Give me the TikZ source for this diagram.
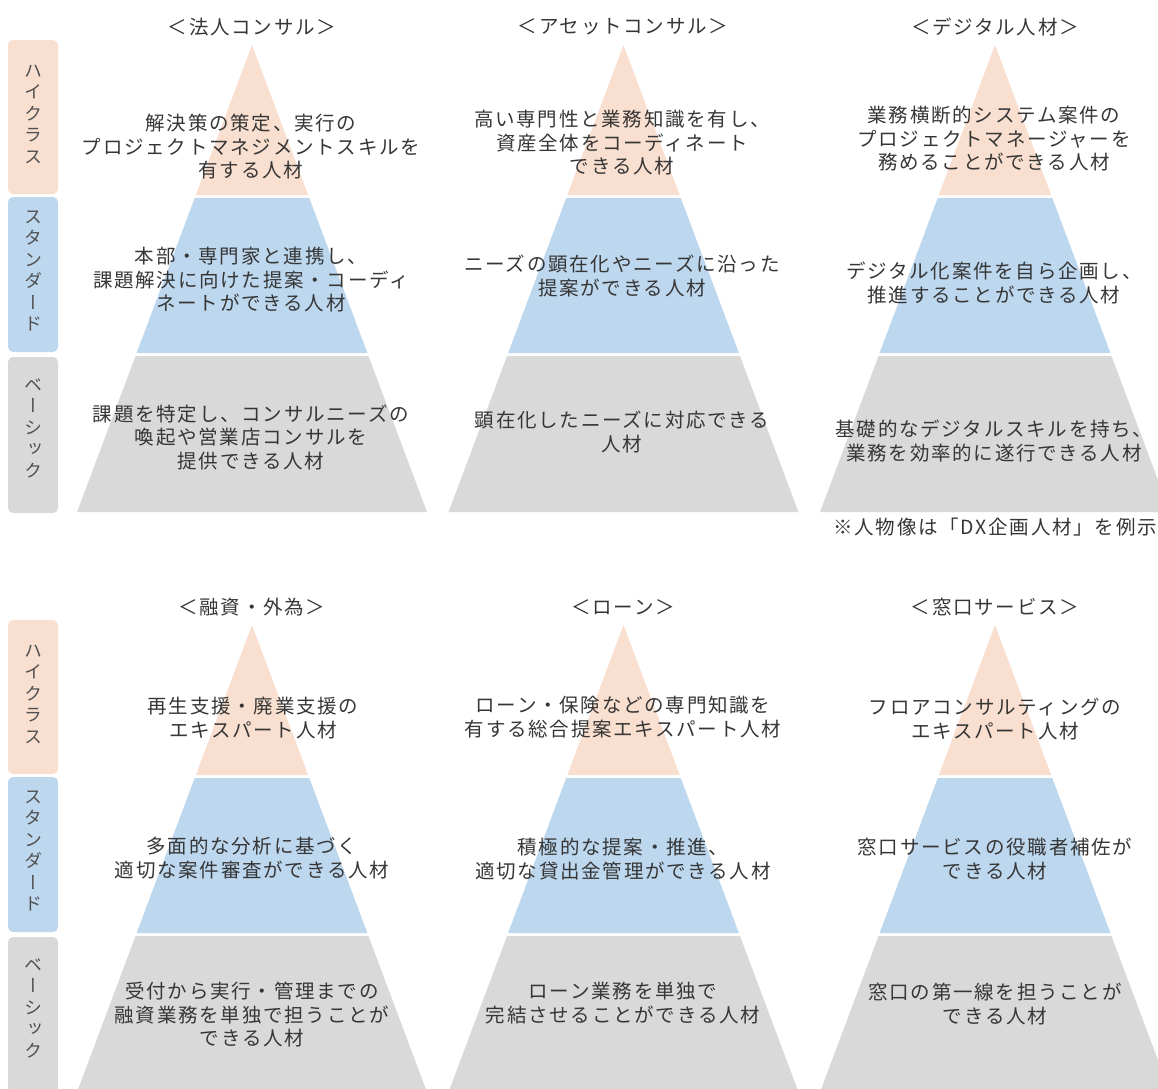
\documentclass[tikz,border=0pt]{standalone}
\usepackage{fontspec}
\setmainfont[LetterSpace=9]{Noto Sans CJK JP}
\newfontfamily\vfont[RawFeature=+vert]{Noto Sans CJK JP}
\definecolor{hiC}{HTML}{F9DFD0}
\definecolor{stC}{HTML}{BDD7EE}
\definecolor{baC}{HTML}{D9D9D9}
\definecolor{txt}{HTML}{363636}
\definecolor{lbltxt}{HTML}{505050}
\begin{document}
\begin{tikzpicture}[x=1pt,y=-1pt,
  desc/.style={align=center, text=txt, font=\fontsize{19.5}{23.5}\selectfont, inner sep=0pt},
  ttl/.style={text=txt, font=\fontsize{19.5}{23.5}\selectfont, inner sep=0pt},
  lbl/.style={align=center, text=lbltxt, font=\vfont\fontsize{18}{21.5}\selectfont, inner sep=0pt},
  bar/.style={rounded corners=5pt}]
\useasboundingbox (0,0) rectangle (1158,1088);
\clip (0,0) rectangle (1158,1088);
% pyramids
\foreach \cx/\oy in {252/0, 623.5/0, 995/0, 252/580, 623.5/580, 995/580}{
  \begin{scope}[shift={(\cx,\oy)}]
    \fill[hiC] (0,45) -- (56.2,195) -- (-56.2,195) -- cycle;
    \fill[stC] (-57.3,198) -- (57.3,198) -- (115.4,353) -- (-115.4,353) -- cycle;
    \fill[baC] (-116.5,356) -- (116.5,356) -- (175,512) -- (-175,512) -- cycle;
  \end{scope}
}
% level bars
\foreach \oy in {0,580}{
  \begin{scope}[shift={(0,\oy)}]
    \fill[hiC,bar] (8,40) rectangle (58,194);
    \fill[stC,bar] (8,197) rectangle (58,352);
    \fill[baC,bar] (8,357) rectangle (58,513);
  \end{scope}
}
\node[lbl] (lh1) at (33,114) {ハ\\イ\\ク\\ラ\\ス};
\node[lbl] (ls1) at (33,271) {ス\\タ\\ン\\ダ\\ー\\ド};
\node[lbl] (lb1) at (33,428) {ベ\\ー\\シ\\ッ\\ク};
\node[lbl] (lh2) at (33,694) {ハ\\イ\\ク\\ラ\\ス};
\node[lbl] (ls2) at (33,851) {ス\\タ\\ン\\ダ\\ー\\ド};
\node[lbl] (lb2) at (33,1008) {ベ\\ー\\シ\\ッ\\ク};
% titles
\node[ttl] (t1) at (252,27) {＜法人コンサル＞};
\node[ttl] (t2) at (623,27) {＜アセットコンサル＞};
\node[ttl] (t3) at (995,27) {＜デジタル人材＞};
\node[ttl] (t4) at (252,607) {＜融資・外為＞};
\node[ttl] (t5) at (623,607) {＜ローン＞};
\node[ttl] (t6) at (995,607) {＜窓口サービス＞};
% pyramid 1
\node[desc] (h1) at (251,147) {解決策の策定、実行の\\プロジェクトマネジメントスキルを\\有する人材};
\node[desc] (s1) at (251,280) {本部・専門家と連携し、\\課題解決に向けた提案・コーディ\\ネートができる人材};
\node[desc] (b1) at (251,437) {課題を特定し、コンサルニーズの\\喚起や営業店コンサルを\\提供できる人材};
% pyramid 2
\node[desc] (h2) at (622,143) {高い専門性と業務知識を有し、\\資産全体をコーディネート\\できる人材};
\node[desc] (s2) at (622,276) {ニーズの顕在化やニーズに沿った\\提案ができる人材};
\node[desc] (b2) at (622,432) {顕在化したニーズに対応できる\\人材};
% pyramid 3
\node[desc] (h3) at (994,139) {業務横断的システム案件の\\プロジェクトマネージャーを\\務めることができる人材};
\node[desc] (s3) at (994,283) {デジタル化案件を自ら企画し、\\推進することができる人材};
\node[desc] (b3) at (994,441) {基礎的なデジタルスキルを持ち、\\業務を効率的に遂行できる人材};
\node[ttl, anchor=east] (note) at (1157,527) {※人物像は「DX企画人材」を例示};
% pyramid 4
\node[desc] (h4) at (253,718) {再生支援・廃業支援の\\エキスパート人材};
\node[desc] (s4) at (252,858) {多面的な分析に基づく\\適切な案件審査ができる人材};
\node[desc] (b4) at (252,1015) {受付から実行・管理までの\\融資業務を単独で担うことが\\できる人材};
% pyramid 5
\node[desc] (h5) at (623,717) {ローン・保険などの専門知識を\\有する総合提案エキスパート人材};
\node[desc] (s5) at (623,859) {積極的な提案・推進、\\適切な貸出金管理ができる人材};
\node[desc] (b5) at (623,1003) {ローン業務を単独で\\完結させることができる人材};
% pyramid 6
\node[desc] (h6) at (995,719) {フロアコンサルティングの\\エキスパート人材};
\node[desc] (s6) at (995,859) {窓口サービスの役職者補佐が\\できる人材};
\node[desc] (b6) at (995,1004) {窓口の第一線を担うことが\\できる人材};
\end{tikzpicture}
\end{document}
